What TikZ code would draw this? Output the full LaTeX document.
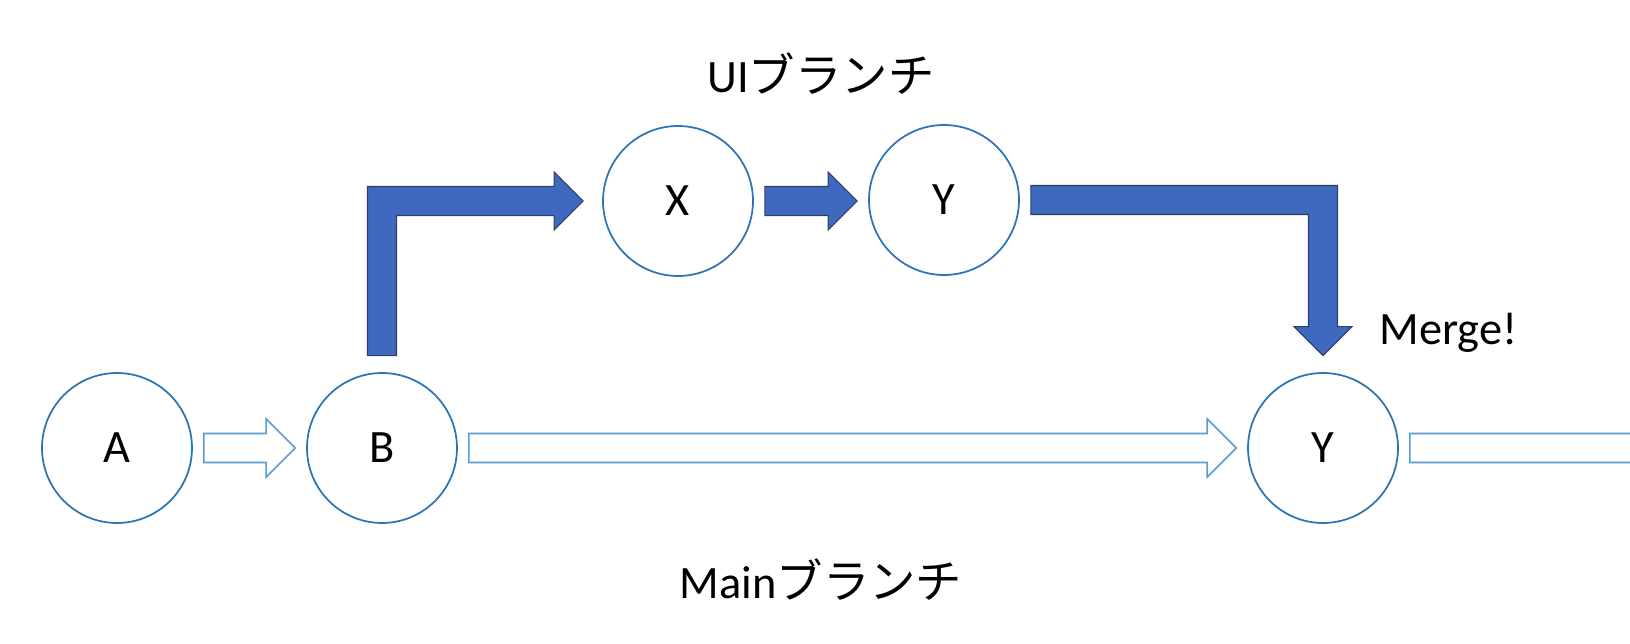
\documentclass[tikz,border=0pt]{standalone}
\usepackage{fontspec}
\setmainfont{Carlito}
\newfontfamily\jpfont{Noto Sans CJK JP}
\usetikzlibrary{calc}

\definecolor{ringblue}{RGB}{46,117,182}
\definecolor{lineblue}{RGB}{91,155,213}
\definecolor{fillblue}{RGB}{63,104,191}
\definecolor{edgeblue}{RGB}{47,62,100}

% block arrow sizes
\newcommand\shaftw{0.29cm}
\newcommand\headw{0.58cm}
\newcommand\headl{0.58cm}

% straight block arrow, pointing right
\newcommand\rarrow[3]{\draw[#1] let \p1=(#2), \p2=(#3) in
  (\x1,{\y1+\shaftw}) -- ({\x2-\headl},{\y1+\shaftw}) -- ({\x2-\headl},{\y1+\headw}) -- (\x2,\y1)
  -- ({\x2-\headl},{\y1-\headw}) -- ({\x2-\headl},{\y1-\shaftw}) -- (\x1,{\y1-\shaftw}) -- cycle;}

\begin{document}
\begin{tikzpicture}[x=0.02cm,y=-0.02cm,
  commit/.style={circle,draw=ringblue,line width=1pt,minimum size=3cm,inner sep=0pt,font=\fontsize{26.4}{30}\selectfont},
  mainarrow/.style={draw=lineblue,fill=white,line width=0.9pt},
  uiarrow/.style={draw=edgeblue,fill=fillblue,line width=0.6pt},
  lbl/.style={font=\fontsize{26.4}{30}\selectfont}]
\useasboundingbox (0,0) rectangle (1630,644);
\clip (0,0) rectangle (1630,644);

\node[commit] (A) at (117,448) {A};
\node[commit] (B) at (382,448) {B};
\node[commit] (X) at (678,201) {X};
\node[commit] (Yui) at (944,200) {Y};
\node[commit] (Ym) at (1323,448) {Y};
\coordinate (out) at (1700,448);

% main branch
\rarrow{mainarrow}{[xshift=0.22cm]A.east}{[xshift=-0.22cm]B.west}
\rarrow{mainarrow}{[xshift=0.22cm]B.east}{[xshift=-0.22cm]Ym.west}
\rarrow{mainarrow}{[xshift=0.22cm]Ym.east}{out}

% ui branch
\draw[uiarrow] let \p1=([yshift=0.33cm]B.north), \p2=([xshift=-0.38cm]X.west) in
  ({\x1-\shaftw},\y1) -- ({\x1-\shaftw},{\y2+\shaftw}) -- ({\x2-\headl},{\y2+\shaftw}) -- ({\x2-\headl},{\y2+\headw})
  -- (\x2,\y2) -- ({\x2-\headl},{\y2-\headw}) -- ({\x2-\headl},{\y2-\shaftw}) -- ({\x1+\shaftw},{\y2-\shaftw})
  -- ({\x1+\shaftw},\y1) -- cycle;
\rarrow{uiarrow}{[xshift=0.22cm]X.east}{[xshift=-0.22cm]Yui.west}
\draw[uiarrow] let \p1=([xshift=0.22cm]Yui.east), \p2=([yshift=0.33cm]Ym.north) in
  (\x1,{\y1+\shaftw}) -- ({\x2+\shaftw},{\y1+\shaftw}) -- ({\x2+\shaftw},{\y2+\headl}) -- ({\x2+\headw},{\y2+\headl})
  -- (\x2,\y2) -- ({\x2-\headw},{\y2+\headl}) -- ({\x2-\shaftw},{\y2+\headl}) -- ({\x2-\shaftw},{\y1-\shaftw})
  -- (\x1,{\y1-\shaftw}) -- cycle;

% labels
\node[lbl] (uilabel) at (821,74) {UI{\jpfont ブランチ}};
\node[lbl] (mainlabel) at (821,580) {Main{\jpfont ブランチ}};
\node[lbl,anchor=base west,inner sep=0pt] (merge) at (1379,345) {Merge!};
\end{tikzpicture}
\end{document}
